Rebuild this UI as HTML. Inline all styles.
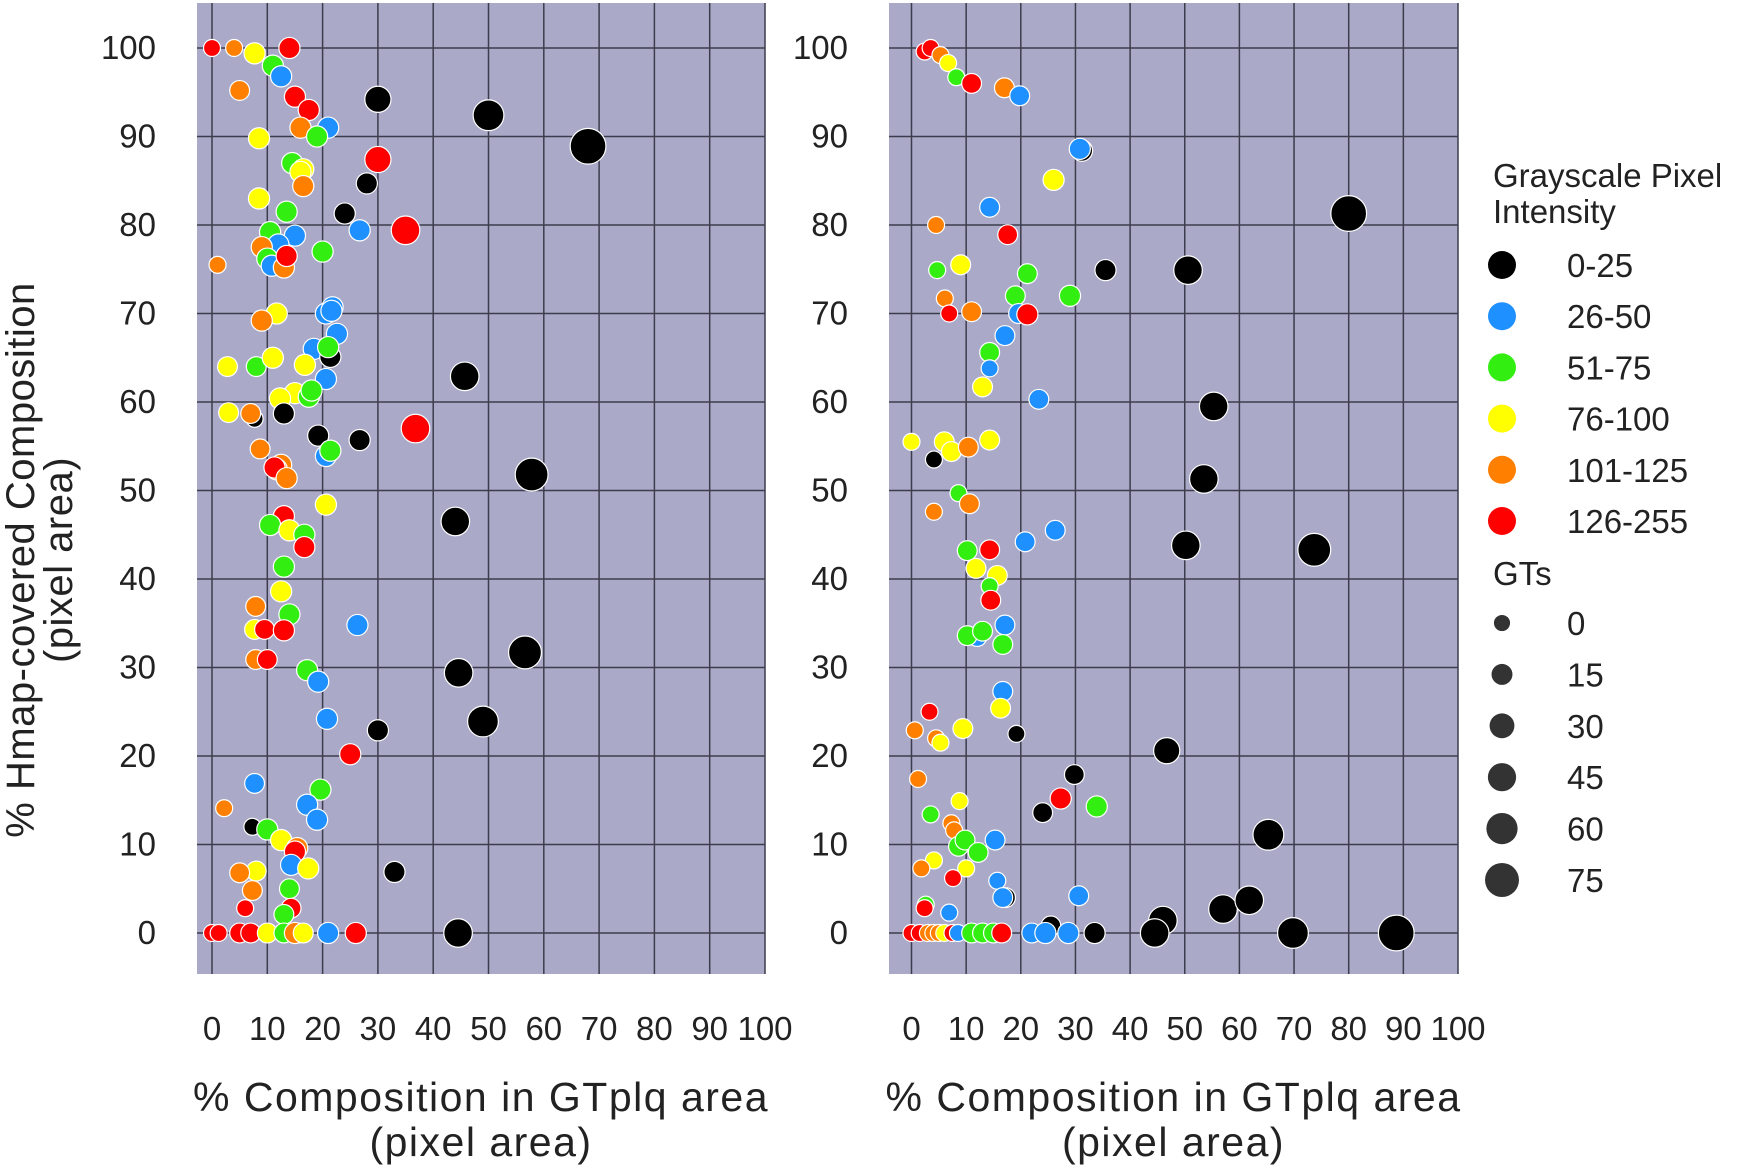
<!DOCTYPE html>
<html><head><meta charset="utf-8"><style>
html,body{margin:0;padding:0;background:#fff;}
svg{display:block;font-family:"Liberation Sans",sans-serif;}
</style></head><body>
<svg id="chart" width="1748" height="1170" viewBox="0 0 1748 1170" xmlns="http://www.w3.org/2000/svg"></svg>
<script>
const xTicks=[0,10,20,30,40,50,60,70,80,90,100];
const yTicks=[0,10,20,30,40,50,60,70,80,90,100];
const colorNames=['0-25','26-50','51-75','76-100','101-125','126-255'];
const colorValues=['#000000','#1e90ff','#33ee11','#ffff00','#ff8000','#ff0000'];
const gtLegend=[0,15,30,45,60,75];
// [x, y, colorIndex, GTs]
const leftPoints=[
[0,100,5,0],[4,100,4,0],[7.7,99.4,3,12],[14,100,5,12],[11,98,2,12],[12.5,96.8,1,12],[5,95.2,4,8],[30,94.2,0,30],[15,94.5,5,12],[50,92.4,0,50],[17.5,93,5,12],[21,91,1,12],[16,91,4,12],[19,90,2,12],[8.5,89.8,3,12],[68,88.9,0,75],[30,87.4,5,30],[14.5,87,2,12],[16.5,86.3,3,12],[16,86,3,12],[16.5,84.4,4,12],[28,84.7,0,12],[8.5,83,3,12],[24,81.3,0,12],[13.5,81.5,2,12],[26.7,79.4,1,12],[35,79.4,5,40],[15,78.8,1,12],[10.5,79.2,2,12],[12,77.8,1,12],[9,77.5,4,12],[20,77,2,12],[1,75.5,4,0],[10,76.2,2,12],[10.8,75.4,1,12],[13,75.2,4,12],[13.5,76.5,5,12],
[11.7,70,3,12],[9,69.2,4,12],[20.6,70,1,12],[21.8,70.7,1,12],[21.6,70.3,1,12],[22.6,67.7,1,12],[2.8,64,3,8],[8,64,2,8],[11,65,3,12],[18.4,66,1,12],[21.4,65.1,0,12],[21,66.2,2,12],[16.8,64.2,3,12],[20.6,62.6,1,12],[45.7,62.9,0,40],[15,61,3,12],[12.3,60.4,3,12],[17.5,60.6,2,12],[18,61.3,2,12],[3,58.8,3,8],[7.7,58.1,0,0],[7,58.7,4,8],[13,58.7,0,12],[36.8,57,5,40],[19.2,56.2,0,12],[26.7,55.7,0,12],[8.7,54.7,4,8],[20.6,53.9,1,12],[21.4,54.5,2,12],[12.5,52.9,4,12],[11.7,52.4,4,12],[11.3,52.6,5,12],[13.5,51.4,4,12],[57.8,51.8,0,60],[20.6,48.4,3,12],[44,46.5,0,40],[13,47.1,5,12],[10.5,46.1,2,12],[14,45.5,3,12],[16.7,45,2,12],[16.7,43.6,5,12],[13,41.4,2,12],[12.5,38.6,3,12],[7.9,36.9,4,8],[14,36,2,12],[26.3,34.8,1,12],[7.7,34.3,3,8],[9.5,34.3,5,8],[13,34.2,5,12],[7.9,30.9,4,8],[10,30.9,5,8],[56.6,31.7,0,60],[44.6,29.4,0,40],[17.2,29.7,2,12],[19.2,28.4,1,12],[20.8,24.2,1,12],[49,23.9,0,50],[30,22.9,0,12],[25,20.2,5,12],[7.7,16.9,1,8],[19.6,16.2,2,12],[2.2,14.1,4,0],[17.2,14.5,1,12],[19,12.8,1,12],[7.3,12,0,0],[10,11.7,2,12],[12.5,10.5,3,12],[15.4,9.6,4,12],[15,9.2,5,12],[14.3,7.7,1,12],[17.4,7.3,3,12],[8,7,3,8],[5,6.8,4,8],[33,6.9,0,12],[7.3,4.8,4,8],[14,5,2,8],[6,2.8,5,0],[14.3,2.8,5,8],[13,2.1,2,8],
[0,0,5,0],[1.2,0,5,0],[5,0,5,8],[7,0,5,8],[10,0,3,8],[13,0,2,8],[15.5,0,3,8],[15,0,4,12],[16.5,0,3,8],[21,0,1,12],[26,0,5,12],[44.5,0,0,40]
];
const rightPoints=[
[2.4,99.6,5,0],[3.5,100,5,0],[5.3,99.2,4,0],[6.7,98.3,3,0],[8.2,96.7,2,0],[11,96,5,8],[17,95.5,4,8],[19.8,94.6,1,8],[31.2,88.4,0,12],[30.8,88.6,1,12],[26,85.1,3,12],[14.3,82,1,8],[80,81.3,0,75],[4.5,80,4,0],[17.6,78.9,5,8],[4.7,74.9,2,0],[9,75.5,3,8],[21.2,74.5,2,8],[35.5,74.9,0,12],[50.6,74.9,0,40],[6.1,71.7,4,0],[6.9,70,5,0],[11,70.2,4,8],[19,72,2,8],[29,72,2,12],[19.6,70,1,8],[21.2,69.9,5,12],[17.1,67.5,1,8],[14.3,65.6,2,8],[14.3,63.8,1,0],[13,61.7,3,8],[23.3,60.3,1,8],[55.3,59.5,0,40],
[0,55.5,3,0],[6,55.5,3,8],[7.3,54.4,3,8],[10.4,54.9,4,8],[14.3,55.7,3,8],[4.1,53.5,0,0],[53.5,51.3,0,40],[8.6,49.7,2,0],[10.6,48.5,4,8],[4.1,47.6,4,0],[20.8,44.2,1,8],[26.3,45.5,1,8],[50.2,43.8,0,40],[73.7,43.3,0,60],[10.2,43.2,2,8],[14.3,43.3,5,8],[11.8,41.2,3,8],[15.7,40.4,3,8],[14.3,39.2,2,0],[14.5,37.6,5,8],[17.1,34.8,1,8],[12,33.5,1,8],[10.2,33.6,2,8],[13,34.1,2,8],[16.7,32.6,2,8],[16.7,27.3,1,8],[16.3,25.4,3,8],[3.3,25,5,0],[0.6,22.9,4,0],[9.4,23.1,3,8],[4.5,22,4,0],[5.3,21.5,3,0],[19.2,22.5,0,0],[46.7,20.6,0,30],[1.2,17.4,4,0],[29.8,17.9,0,8],[27.3,15.2,5,12],[24,13.6,0,8],[33.9,14.3,2,12],[3.5,13.4,2,0],[8.8,14.9,3,0],[7.3,12.4,4,0],[7.8,11.6,4,0],[8.6,9.8,2,8],[9.8,10.5,2,8],[12.2,9.1,2,8],[15.3,10.5,1,8],[4.1,8.2,3,0],[1.8,7.3,4,0],[10,7.3,3,0],[7.6,6.2,5,0],[15.7,5.9,1,0],[17.2,4,0,8],[16.7,4,1,8],[30.6,4.2,1,8],[2.6,3.2,2,0],[2.4,2.8,5,0],[6.9,2.3,1,0],[25.5,0.8,0,8],[46,1.4,0,40],[57,2.7,0,40],[61.8,3.7,0,40],[65.3,11.1,0,50],
[0,0,5,0],[1.5,0,5,0],[3,0,4,0],[4,0,4,0],[5,0,4,0],[6,0,3,0],[7.5,0,5,0],[8.5,0,1,0],[11,0,2,8],[13,0,2,8],[15,0,2,8],[16.5,0,5,8],[22,0,1,8],[24.5,0,1,12],[28.7,0,1,12],[33.5,0,0,12],[44.5,0,0,40],[69.8,0,0,50],[88.7,0,0,75]
];
const NS='http://www.w3.org/2000/svg';
const svg=document.getElementById('chart');
function mk(tag,attrs,parent){const e=document.createElementNS(NS,tag);for(const k in attrs)e.setAttribute(k,attrs[k]);(parent||svg).appendChild(e);return e;}
function rad(g){return Math.sqrt(72+g*3.3);}
const yScale=v=>933-v*8.85;
function panel(name,rectX,x0,x100,pts){
  const g=mk('g',{});
  
  
  const xs=v=>x0+(x100-x0)*v/100;
  const bg=mk('rect',{x:rectX,y:3,width:x100-rectX,height:971,fill:'#aaaac8'},g);
  
  
  xTicks.forEach(t=>{const l=mk('line',{x1:xs(t),x2:xs(t),y1:3,y2:974,stroke:'#3c3c4c','stroke-width':1.5},g);
    
    
    const tx=mk('text',{x:xs(t),y:1040,'text-anchor':'middle','font-size':33,fill:'#222'},g);tx.textContent=t;
    
    });
  yTicks.forEach(t=>{const l=mk('line',{x1:rectX,x2:x100,y1:yScale(t),y2:yScale(t),stroke:'#3c3c4c','stroke-width':1.5},g);
    
    
    const tx=mk('text',{x:rectX-41,y:yScale(t)+11,'text-anchor':'end','font-size':33,fill:'#222'},g);tx.textContent=t;
    
    });
  pts.forEach(p=>{const c=mk('circle',{cx:xs(p[0]),cy:yScale(p[1]),r:rad(p[3]),fill:colorValues[p[2]],stroke:'#fff','stroke-width':1.2},g);
    
    });
  const cx=(rectX+x100)/2;
  const t1=mk('text',{x:cx,y:1111,'text-anchor':'middle','font-size':41,fill:'#222','letter-spacing':1.5},g);t1.textContent='% Composition in GTplq area';
  
  
  const t2=mk('text',{x:cx,y:1156,'text-anchor':'middle','font-size':41,fill:'#222','letter-spacing':1.5},g);t2.textContent='(pixel area)';
  
  
}
panel('left-panel',197,212,765,leftPoints);
panel('right-panel',889,911.5,1458,rightPoints);
const yt=mk('text',{transform:'translate(34,560) rotate(-90)','text-anchor':'middle','font-size':40,fill:'#222','letter-spacing':0.5});yt.textContent='% Hmap-covered Composition';


const yt2=mk('text',{transform:'translate(72,560) rotate(-90)','text-anchor':'middle','font-size':40,fill:'#222','letter-spacing':0.5});yt2.textContent='(pixel area)';


const lg=mk('g',{});


[['Grayscale Pixel',187],['Intensity',223],['GTs',585]].forEach(a=>{const t=mk('text',{x:1493,y:a[1],'font-size':33,fill:'#222'},lg);t.textContent=a[0];
  
  });
colorNames.forEach((n,i)=>{const y=265+i*51.2;
  const c=mk('circle',{cx:1502,cy:y,r:14,fill:colorValues[i]},lg);
  
  
  const t=mk('text',{x:1567,y:y+12,'font-size':33,fill:'#222'},lg);t.textContent=n;
  
  });
gtLegend.forEach((n,i)=>{const y=623+i*51.4;
  const c=mk('circle',{cx:1502,cy:y,r:rad(n)*0.95,fill:'#333'},lg);
  
  
  const t=mk('text',{x:1567,y:y+12,'font-size':33,fill:'#222'},lg);t.textContent=n;
  
  });
</script>
</body></html>
